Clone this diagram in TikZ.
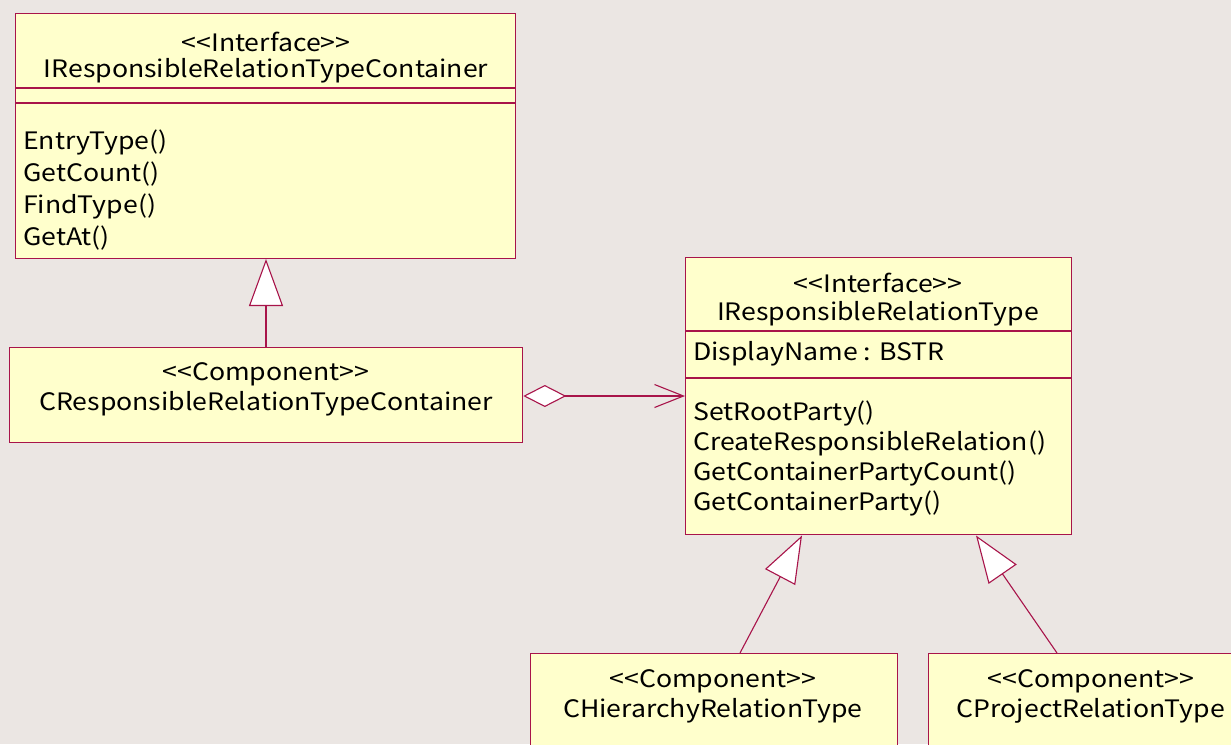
\documentclass[tikz,border=0pt]{standalone}
\usepackage{fontspec}
\setmainfont{Noto Sans CJK JP}[Ligatures=TeXOff, FakeStretch=1.11]
\usetikzlibrary{arrows.meta}
\definecolor{bgc}{HTML}{EBE6E3}
\definecolor{boxc}{HTML}{FFFFCC}
\definecolor{linec}{HTML}{A8144A}
\tikzset{
  x=1pt, y=-1pt,
  umlbox/.style={draw=linec, fill=boxc, line width=1.3pt, rectangle, inner sep=0pt, anchor=north west},
  txt/.style={inner sep=0pt, yshift=-2pt, font=\fontsize{24}{28}\selectfont},
  conn/.style={draw=linec, line width=1.1pt},
  gen/.style={conn, -{Triangle[length=47pt, width=34pt, fill=white, line width=1.1pt]}},
}
\begin{document}
\begin{tikzpicture}
\fill[bgc] (0,0) rectangle (1231,744);
\useasboundingbox (0,0) rectangle (1231,744);
% boxes
\node[umlbox, minimum width=500pt, minimum height=245pt] (ic) at (15,13) {};
\node[umlbox, minimum width=513pt, minimum height=95pt] (cc) at (9,347) {};
\node[umlbox, minimum width=386pt, minimum height=277pt] (it) at (685,257) {};
\node[umlbox, minimum width=367pt, minimum height=110pt] (ch) at (530,653) {};
\node[umlbox, minimum width=320pt, minimum height=110pt] (cp) at (928,653) {};
% compartments
\draw[conn] (ic.west |- 0,88) -- (ic.east |- 0,88);
\draw[conn] (ic.west |- 0,103) -- (ic.east |- 0,103);
\draw[conn] (it.west |- 0,331) -- (it.east |- 0,331);
\draw[conn] (it.west |- 0,378) -- (it.east |- 0,378);
% texts box1
\node[txt] (ic1) at (266,40) {<<Interface>>};
\node[txt] (ic2) at (266,69) {IResponsibleRelationTypeContainer};
\node[txt, anchor=west] (ic3) at (23,140) {EntryType()};
\node[txt, anchor=west] (ic4) at (23,172) {GetCount()};
\node[txt, anchor=west] (ic5) at (23,204) {FindType()};
\node[txt, anchor=west] (ic6) at (23,236) {GetAt()};
% box2
\node[txt] (cc1) at (266,372) {<<Component>>};
\node[txt] (cc2) at (266,402) {CResponsibleRelationTypeContainer};
% box3
\node[txt] (it1) at (878,281) {<<Interface>>};
\node[txt] (it2) at (878,312) {IResponsibleRelationType};
\node[txt, anchor=west] (it3) at (693,352) {DisplayName : BSTR};
\node[txt, anchor=west] (it4) at (693,411) {SetRootParty()};
\node[txt, anchor=west] (it5) at (693,441) {CreateResponsibleRelation()};
\node[txt, anchor=west] (it6) at (693,471) {GetContainerPartyCount()};
\node[txt, anchor=west] (it7) at (693,501) {GetContainerParty()};
% box4/5
\node[txt] (ch1) at (713,679) {<<Component>>};
\node[txt] (ch2) at (713,709) {CHierarchyRelationType};
\node[txt] (cp1) at (1091,679) {<<Component>>};
\node[txt] (cp2) at (1091,709) {CProjectRelationType};
% connectors
\coordinate (g1s) at (266,347);
\coordinate (g1e) at (266,259);
\draw[gen] (cc.north -| g1s) -- (g1e);
\coordinate (g2s) at (740,653);
\coordinate (g2e) at (802,535.5);
\draw[gen] (g2s) -- (g2e);
\coordinate (g3s) at (1057,653);
\coordinate (g3e) at (976,535.5);
\draw[gen] (g3s) -- (g3e);
\draw[conn, {Diamond[length=43pt, width=22pt, fill=white, line width=1.1pt]}-{Straight Barb[length=29pt, width=23pt, line width=1.1pt]}] (cc.east |- 0,396) -- (it.west |- 0,396);
\end{tikzpicture}
\end{document}
